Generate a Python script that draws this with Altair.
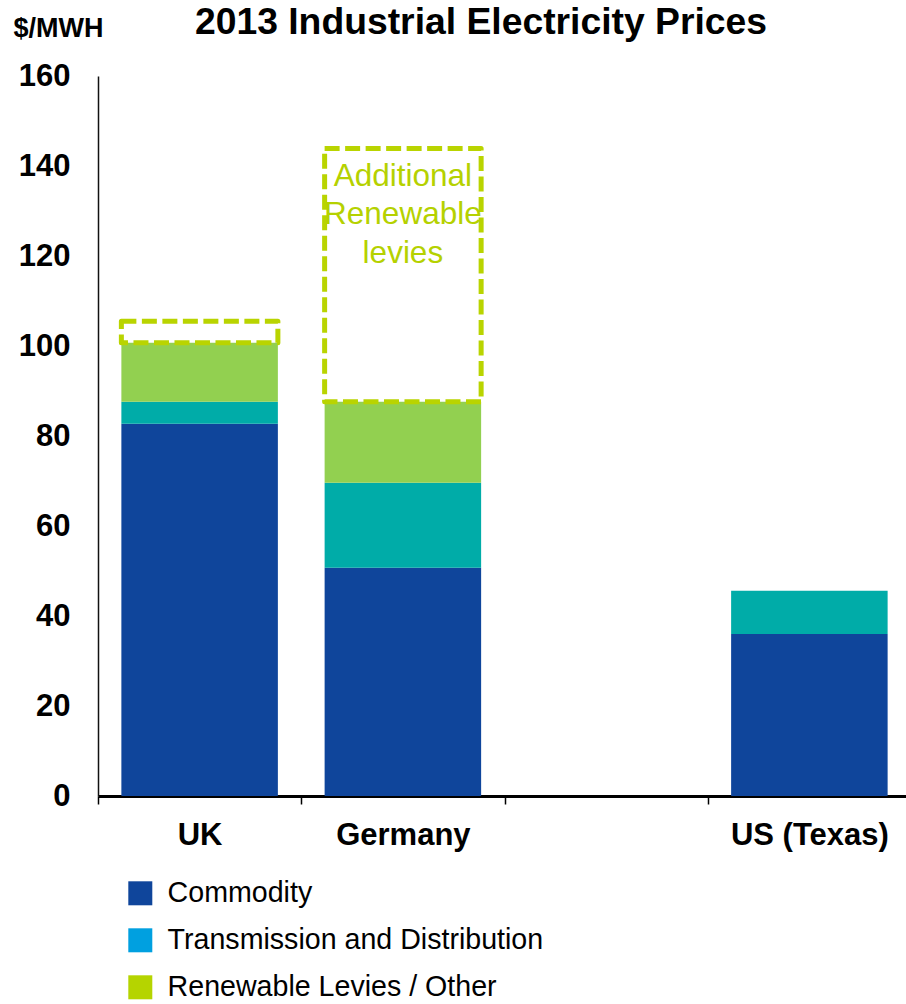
import altair as alt
import pandas as pd

# Category slots along the x axis (the blank slot leaves a gap before Texas)
slots = ["UK", "Germany", " ", "US (Texas)"]
regions = ["UK", "Germany", "US (Texas)"]
components = ["Commodity", "Transmission and Distribution", "Renewable Levies / Other"]

# $/MWh by cost component
commodity = [82.7, 50.7, 36.0]
transmission = [4.9, 18.9, 9.6]
renewable = [13.1, 18.0, 0.0]

# Extra renewable levies shown as dashed outlines on top of the bars
levy_regions = ["UK", "Germany"]
additional_levies = [4.8, 56.3]
levy_note = "Additional\nRenewable\nlevies"
levy_note_level = 137.6

bar_colors = ["#0f459b", "#00aca8", "#92d050"]
legend_colors = ["#0f459b", "#00a0e0", "#b5d400"]
levy_color = "#b9d400"
FONT = "Liberation Sans"

series = [commodity, transmission, renewable]
rows = []
for i, region in enumerate(regions):
    for j, comp in enumerate(components):
        rows.append({"region": region, "component": comp, "value": series[j][i], "rank": j})
stack_df = pd.DataFrame(rows)

levy_rows = []
for region, extra in zip(levy_regions, additional_levies):
    k = regions.index(region)
    base = commodity[k] + transmission[k] + renewable[k]
    levy_rows.append({"region": region, "base": base, "top": base + extra})
levy_df = pd.DataFrame(levy_rows)

note_df = pd.DataFrame([{"region": "Germany", "level": levy_note_level, "note": levy_note}])
swatch_df = pd.DataFrame({"swatch": components})

BAR_BAND = 0.77

x_enc = alt.X(
    "region:N",
    title="",
    scale=alt.Scale(domain=slots, range=[0, 813], paddingInner=0, paddingOuter=0),
    axis=alt.Axis(
        labelAngle=0,
        labelFont=FONT,
        labelFontSize=31,
        labelFontWeight="bold",
        labelColor="#000000",
        labelPadding=16,
        tickBand="extent",
        tickSize=8,
        tickWidth=1.5,
        tickColor="#000000",
        domainColor="#000000",
        domainWidth=3,
    ),
)

y_scale = alt.Scale(domain=[0, 160], nice=False)
y_axis = alt.Axis(
    values=[0, 20, 40, 60, 80, 100, 120, 140, 160],
    grid=False,
    ticks=False,
    labelFont=FONT,
    labelFontSize=31,
    labelFontWeight="bold",
    labelColor="#000000",
    labelPadding=28,
    domainColor="#111111",
    domainWidth=1.5,
    title="$/MWH",
    titleFont=FONT,
    titleFontSize=27,
    titleFontWeight="bold",
    titleColor="#000000",
    titleAngle=0,
    titleAlign="left",
    titleBaseline="alphabetic",
    titleX=-85,
    titleY=-40,
)

bars = alt.Chart(stack_df).mark_bar(width=alt.RelativeBandSize(BAR_BAND)).encode(
    x=x_enc,
    y=alt.Y("value:Q", stack="zero", scale=y_scale, axis=y_axis),
    color=alt.Color(
        "component:N",
        sort=components,
        scale=alt.Scale(range=bar_colors),
        legend=None,
    ),
    order=alt.Order("rank:Q", sort="ascending"),
)

# Invisible layer that carries the legend key (brighter swatch colours)
legend_layer = alt.Chart(swatch_df).mark_square(opacity=0).encode(
    fill=alt.Fill(
        "swatch:N",
        title=None,
        scale=alt.Scale(domain=components, range=legend_colors),
        legend=alt.Legend(
            orient="none",
            legendX=28,
            legendY=803,
            direction="vertical",
            symbolType="square",
            symbolSize=576,
            symbolOpacity=1,
            symbolStrokeWidth=0,
            labelFont=FONT,
            labelFontSize=28.6,
            labelColor="#000000",
            labelOffset=13,
            rowPadding=18,
            padding=0,
            labelLimit=600,
        ),
    ),
)

levy_boxes = alt.Chart(levy_df).mark_bar(
    width=alt.RelativeBandSize(BAR_BAND),
    fillOpacity=0,
    stroke=levy_color,
    strokeWidth=5,
    strokeDash=[15, 5.5],
    strokeJoin="round",
).encode(
    x=alt.X("region:N"),
    y=alt.Y("base:Q"),
    y2="top:Q",
)

levy_text = alt.Chart(note_df).mark_text(
    font=FONT,
    fontSize=31.5,
    color="#b5d100",
    lineBreak="\n",
    lineHeight=38.5,
    align="center",
    baseline="middle",
).encode(
    x=alt.X("region:N"),
    y=alt.Y("level:Q"),
    text="note:N",
)

chart = (
    alt.layer(bars, legend_layer, levy_boxes, levy_text)
    .properties(
        width=808,
        height=720,
        autosize=alt.AutoSizeParams(type="none"),
        padding={"left": 98, "top": 76, "right": 0, "bottom": 208},
        background="#ffffff",
        title=alt.Title(
            "2013 Industrial Electricity Prices",
            font=FONT,
            fontSize=37.3,
            fontWeight="bold",
            color="#000000",
            anchor="middle",
            baseline="alphabetic",
            dx=-21,
            offset=-57,
        ),
    )
    .configure_view(stroke="transparent")
)

chart.save("out.html", embed_options={"renderer": "svg", "actions": False})
